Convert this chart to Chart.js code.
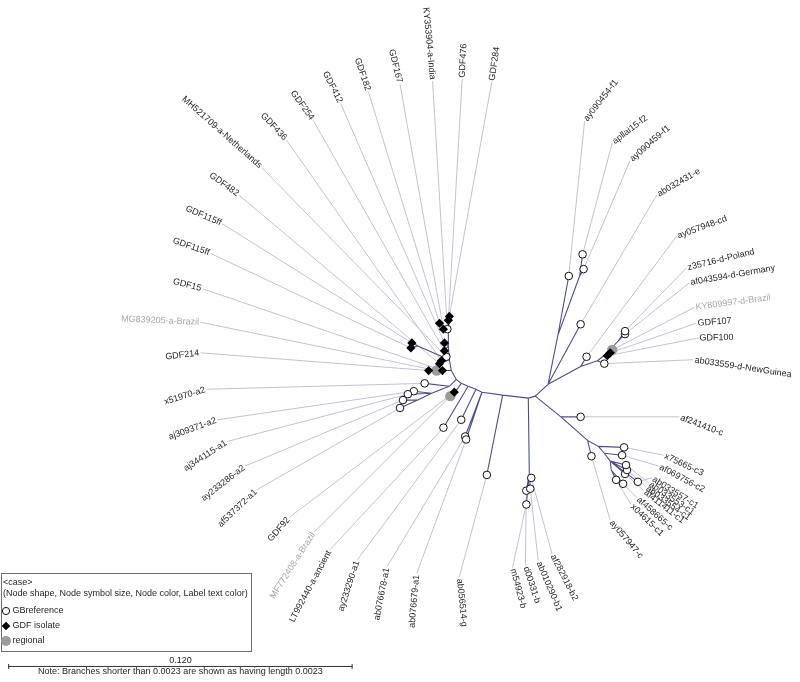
<!DOCTYPE html>
<html>
<head>
<meta charset="utf-8">
<script src="https://cdn.jsdelivr.net/npm/chart.js@4.4.1/dist/chart.umd.min.js"></script>
<style>
html,body{margin:0;padding:0;background:#fff}
#wrap{width:800px;height:682px;position:relative}
</style>
</head>
<body>
<div id="wrap"><canvas id="c" width="800" height="682"></canvas></div>
<script>
// ---- Tree data (layout units; scale bar: 349 units = 0.120 substitutions) ----
const internalIds    = ['H','P1','P2','P3','P4','P5','P6','A0','S1','S2','S3','S4','L1','A4','A5','A6','A7','B0','N1','Fa','Fb','D0','D1','D2','D3','C0','C1','C2','C3','C4','C5'];
const internalX      = [537,530,504,483,477,469,462,457,452,450,449,449,418,450,432,418,458,531,550,560,582,583,600,609,621,563,590,601,607,613,614];
const internalY      = [397,399,396,393,390,387,384,380,371,360,346,331,346,387,394,401,390,476,385,335,275,367,361,354,341,418,442,448,455,463,472];
const internalParent = [null,'H','P1','P2','P3','P4','P5','P6','A0','S1','S2','S3','S2','A0','A4','A5','P6','P1','H','N1','Fa','N1','D0','D1','D2','H','C0','C1','C2','C3','C4'];

const leafNames = ['GDF284','GDF476','KY353904-a-India','GDF167','GDF182','GDF412','GDF254','GDF436','MH521709-a-Netherlands','GDF482',
  'GDF115ff','GDF115ff','GDF15','MG839205-a-Brazil','GDF214','x51970-a2','aj309371-a2','aj344115-a1','ay233286-a2','af537372-a1',
  'GDF92','MF772408-a-Brazil','LT992440-a-ancient','ay233290-a1','ab076678-a1','ab076679-a1','ab056514-g','m54923-b','d00331-b','ab010290-b1',
  'af282918-b2','ay057947-c','x04615-c1','af458665-c','af411411-c1','ab033554-c1','ab033553-c1','ab033557-c1','af069756-c2','x75665-c3',
  'af241410-c','ab033559-d-NewGuinea','GDF100','GDF107','KY809997-d-Brazil','af043594-d-Germany','z35716-d-Poland','ay057948-cd','ab032431-e','ay090459-f1',
  'apllai15-f2','ay090454-f1'];
// G = GBreference, I = GDF isolate, R = regional
const leafGroup = ['I','I','G','I','I','I','I','I','G','I',
  'I','I','I','R','I','G','G','G','G','G',
  'I','R','G','G','G','G','G','G','G','G',
  'G','G','G','G','G','G','G','G','G','G',
  'G','G','I','I','R','G','G','G','G','G',
  'G','G'];
const leafParent = ['S4','S4','S4','S4','S4','S3','S3','S2','S2','S2',
  'L1','L1','S1','S1','S1','A4','A5','A5','A6','A6',
  'A7','A7','P5','P4','P3','P3','P2','B0','B0','B0',
  'B0','C1','C5','C5','C4','C4','C4','C4','C3','C2',
  'C0','D1','D2','D2','D2','D3','D3','D0','N1','Fb',
  'Fb','Fa'];
const leafX = [450,449,448,444,440,445,445,442,447,440,
  412,411,443,437,429,425,414,408,403,400,
  455,451,444,462,466,467,488,528,528,532,
  533,594,619,626,628,630,629,641,625,627,
  583,607,610,613,615,628,628,589,583,586,
  585,571];
const leafY = [316,320,329,329,323,343,351,361,357,364,
  343,348,371,371,371,384,392,395,401,409,
  393,397,429,421,438,441,477,507,493,491,
  480,458,482,486,476,472,467,484,457,449,
  418,364,356,353,350,334,331,357,324,268,
  253,275];
const labelX = [493,463,433,400,368,340,312,285,260,237,
  220,208,200,198,198,204,215,225,243,255,
  288,313,329,357,387,417,460,514,527,540,
  554,613,634,640,647,649,652,655,662,667,
  683,697,702,700,698,693,690,680,660,633,
  615,587];
const labelY = [78,75,77,80,88,100,117,137,165,193,
  222,252,288,322,353,390,421,443,468,492,
  520,535,553,563,570,577,581,571,569,564,
  557,523,507,500,493,489,485,480,468,457,
  418,360,338,323,307,282,267,235,193,158,
  140,118];
const labelAngle = [-81.5,-87,264.7,256,251.6,243.4,234.2,226.7,221.6,215.8,
  203.2,199,194,182.4,173.2,163,160,147,142,136.4,
  131,122.5,118,108,101,95,84.3,75,71.7,67,
  63,50,44,42,38,36,34,32,28,25,
  21,8.7,-1,-4,-7.5,-10,-13.7,-20,-30,-41,
  -37,-52];

const scaleBarValue = 0.120;
const layoutUnitsPerSubst = 349 / 0.120;
const noteText = 'Note: Branches shorter than 0.0023 are shown as having length 0.0023';
const legendTitle = '<case>';
const legendSubtitle = '(Node shape, Node symbol size, Node color, Label text color)';
const legendLabels = ['GBreference','GDF isolate','regional'];

// ---- build geometry ----
const pos = {};
internalIds.forEach((id,i)=>{ pos[id] = {x: internalX[i], y: internalY[i]}; });
const gap = {x: null, y: null};
const branchData = [];
internalIds.forEach((id,i)=>{
  const p = internalParent[i];
  if (p) branchData.push({x: pos[p].x, y: pos[p].y}, {x: internalX[i], y: internalY[i]}, gap);
});
const leaderData = [];
const refPts = [], gdfPts = [], regPts = [];
leafNames.forEach((n,i)=>{
  const p = pos[leafParent[i]];
  branchData.push({x: p.x, y: p.y}, {x: leafX[i], y: leafY[i]}, gap);
  leaderData.push({x: leafX[i], y: leafY[i]}, {x: labelX[i], y: labelY[i]}, gap);
  const pt = {x: leafX[i], y: leafY[i]};
  if (leafGroup[i] === 'G') refPts.push(pt);
  else if (leafGroup[i] === 'I') gdfPts.push(pt);
  else regPts.push(pt);
});

const FONT = '9px "Liberation Sans", Arial, sans-serif';

const decorPlugin = {
  id: 'treeDecor',
  afterDatasetsDraw(chart) {
    const {ctx, scales: {x, y}} = chart;
    ctx.save();
    ctx.font = FONT;
    ctx.textBaseline = 'middle';
    leafNames.forEach((name, i) => {
      const px = x.getPixelForValue(labelX[i]);
      const py = y.getPixelForValue(labelY[i]);
      const a = labelAngle[i] * Math.PI / 180;
      const flip = Math.cos(a) < 0;
      ctx.save();
      ctx.translate(px, py);
      ctx.rotate(flip ? a - Math.PI : a);
      ctx.textAlign = flip ? 'right' : 'left';
      ctx.fillStyle = leafGroup[i] === 'R' ? '#a6a6a6' : '#262626';
      ctx.fillText(name, flip ? -1.5 : 1.5, 0);
      ctx.restore();
    });

    // legend box
    ctx.strokeStyle = '#6e6e6e';
    ctx.lineWidth = 1;
    ctx.strokeRect(1.5, 573.5, 250, 78);
    ctx.fillStyle = '#262626';
    ctx.textAlign = 'left';
    ctx.fillText(legendTitle, 3, 583);
    ctx.fillText(legendSubtitle, 3, 593.5);
    const ly = [611, 626, 641];
    legendLabels.forEach((t, k) => ctx.fillText(t, 12.5, ly[k]));
    // symbols
    ctx.beginPath(); ctx.arc(6, ly[0], 3.6, 0, Math.PI*2);
    ctx.fillStyle = '#fff'; ctx.fill(); ctx.strokeStyle = '#111'; ctx.stroke();
    ctx.beginPath(); ctx.moveTo(6, ly[1]-4.3); ctx.lineTo(10.3, ly[1]); ctx.lineTo(6, ly[1]+4.3); ctx.lineTo(1.7, ly[1]); ctx.closePath();
    ctx.fillStyle = '#000'; ctx.fill();
    ctx.beginPath(); ctx.arc(6, ly[2], 5, 0, Math.PI*2);
    ctx.fillStyle = '#9b9b9b'; ctx.fill();

    // scale bar
    const x0 = x.getPixelForValue(3);
    const x1 = x.getPixelForValue(3 + scaleBarValue * layoutUnitsPerSubst);
    const yb = y.getPixelForValue(671);
    ctx.strokeStyle = '#333';
    ctx.beginPath();
    ctx.moveTo(x0, yb + 0.5); ctx.lineTo(x1, yb + 0.5);
    ctx.moveTo(x0 + 0.5, yb - 2); ctx.lineTo(x0 + 0.5, yb + 3);
    ctx.moveTo(x1 - 0.5, yb - 2); ctx.lineTo(x1 - 0.5, yb + 3);
    ctx.stroke();
    ctx.fillStyle = '#262626';
    ctx.textAlign = 'center';
    ctx.fillText(scaleBarValue.toFixed(3), (x0 + x1) / 2, yb - 5.5);
    ctx.fillText(noteText, (x0 + x1) / 2, yb + 6);
    ctx.restore();
  }
};

new Chart(document.getElementById('c'), {
  type: 'scatter',
  data: {
    datasets: [
      {label: 'leaders', data: leaderData, showLine: true, spanGaps: false, borderColor: '#c2c2d8', borderWidth: 1, pointRadius: 0, order: 5},
      {label: 'branches', data: branchData, showLine: true, spanGaps: false, borderColor: '#4d4d90', borderWidth: 1.1, pointRadius: 0, order: 4},
      {label: 'GBreference', data: refPts, pointStyle: 'circle', pointRadius: 3.8, pointBackgroundColor: '#fff', pointBorderColor: '#111', pointBorderWidth: 1, order: 3},
      {label: 'regional', data: regPts, pointStyle: 'circle', pointRadius: 5.2, pointBackgroundColor: '#9b9b9b', pointBorderColor: '#9b9b9b', pointBorderWidth: 0, order: 2},
      {label: 'GDF isolate', data: gdfPts, pointStyle: 'rectRot', pointRadius: 4.6, pointBackgroundColor: '#000', pointBorderColor: '#000', pointBorderWidth: 0, order: 1}
    ]
  },
  options: {
    responsive: false,
    animation: false,
    layout: {padding: 0},
    plugins: {legend: {display: false}, tooltip: {enabled: false}},
    events: [],
    scales: {
      x: {type: 'linear', min: 0, max: 800, display: false},
      y: {type: 'linear', min: 0, max: 682, reverse: true, display: false}
    }
  },
  plugins: [decorPlugin]
});
</script>
</body>
</html>
